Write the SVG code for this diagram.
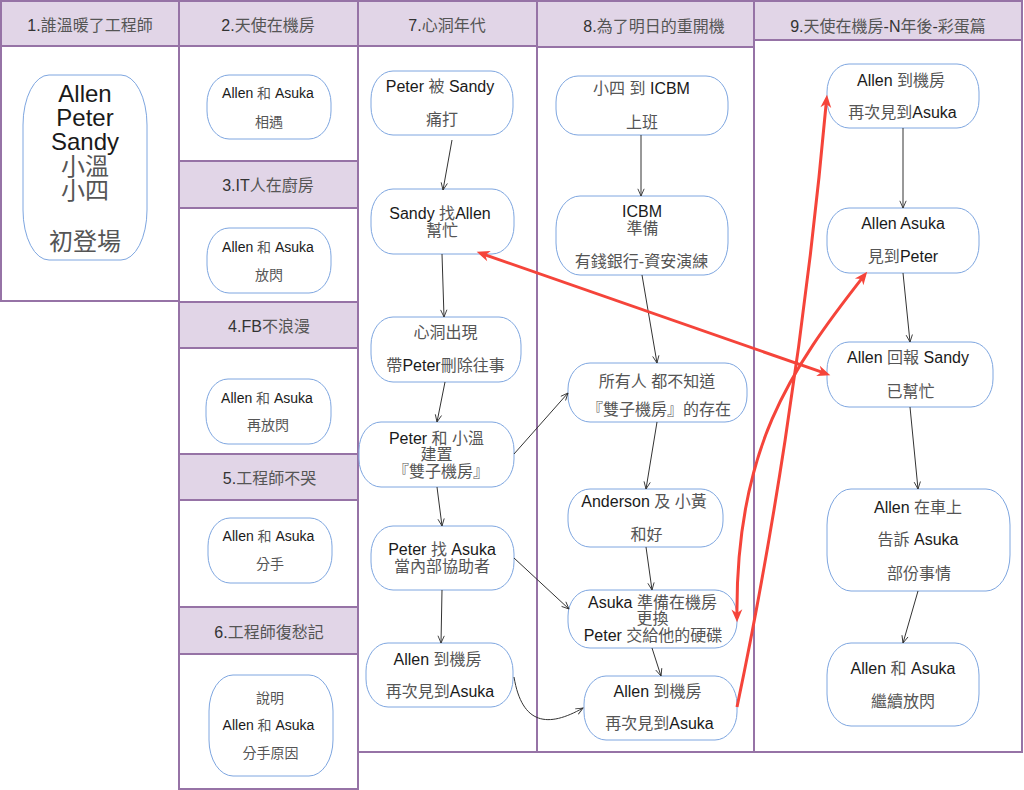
<svg xmlns="http://www.w3.org/2000/svg" width="1024" height="790" viewBox="0 0 1024 790">
<style>
.hdr{fill:#e1d5e7;stroke:#9673a6;stroke-width:2}
.body{fill:#ffffff;stroke:#9673a6;stroke-width:2}
.node{fill:#ffffff;stroke:#7ea6e0;stroke-width:1}
text{font-family:"Liberation Sans","Noto Sans CJK TC",sans-serif;text-anchor:middle;fill:#1a1a1a}
.c{fill:#555555}
.ht{font-size:16px;fill:#333333}
.t14{font-size:14px}
.t16{font-size:16px}
.t24{font-size:24px}
.edge{fill:none;stroke:#333333;stroke-width:1}
.red{fill:none;stroke:#f5443a;stroke-width:3}
</style>
<defs>
<marker id="open" viewBox="0 0 10 10" refX="9" refY="5" markerWidth="9" markerHeight="9" markerUnits="userSpaceOnUse" orient="auto" overflow="visible">
<path d="M1,1.5 L9,5 L1,8.5" fill="none" stroke="#333333" stroke-width="1"/>
</marker>
<marker id="redArrow" viewBox="0 0 12 12" refX="8" refY="6" markerWidth="13" markerHeight="13" markerUnits="userSpaceOnUse" orient="auto-start-reverse" overflow="visible">
<path d="M0,1 L12,6 L0,11 L3.5,6 z" fill="#f5443a"/>
</marker>
</defs>
<rect width="1024" height="790" fill="#ffffff"/>

<g id="lanes">
<g id="lane1">
<rect class="body" x="1" y="46" width="178" height="255"/>
<rect class="hdr" x="1" y="1" width="178" height="45"/>
<text class="ht" x="90" y="30.5">1.<tspan class="c">誰溫暖了工程師</tspan></text>
</g>
<g id="lane2">
<rect class="body" x="179" y="46" width="179" height="115"/>
<rect class="hdr" x="179" y="1" width="179" height="45"/>
<text class="ht" x="268" y="30.5">2.<tspan class="c">天使在機房</tspan></text>
</g>
<g id="lane3">
<rect class="body" x="179" y="208" width="179" height="94"/>
<rect class="hdr" x="179" y="161" width="179" height="47"/>
<text class="ht" x="268" y="191">3.IT<tspan class="c">人在廚房</tspan></text>
</g>
<g id="lane4">
<rect class="body" x="179" y="348" width="179" height="106"/>
<rect class="hdr" x="179" y="302" width="179" height="46"/>
<text class="ht" x="269" y="331.5">4.FB<tspan class="c">不浪漫</tspan></text>
</g>
<g id="lane5">
<rect class="body" x="179" y="500" width="179" height="107"/>
<rect class="hdr" x="179" y="454" width="179" height="46"/>
<text class="ht" x="269.5" y="484">5.<tspan class="c">工程師不哭</tspan></text>
</g>
<g id="lane6">
<rect class="body" x="179" y="654" width="179" height="135"/>
<rect class="hdr" x="179" y="607" width="179" height="47"/>
<text class="ht" x="269" y="637.5">6.<tspan class="c">工程師復愁記</tspan></text>
</g>
<g id="lane7">
<rect class="body" x="358" y="46" width="179" height="706"/>
<rect class="hdr" x="358" y="1" width="179" height="45"/>
<text class="ht" x="447" y="30.5">7.<tspan class="c">心洞年代</tspan></text>
</g>
<g id="lane8">
<rect class="body" x="537" y="47" width="217" height="705"/>
<rect class="hdr" x="537" y="1" width="217" height="46"/>
<text class="ht" x="654" y="31.5">8.<tspan class="c">為了明日的重開機</tspan></text>
</g>
<g id="lane9">
<rect class="body" x="754" y="40" width="268" height="712"/>
<rect class="hdr" x="754" y="1" width="268" height="39"/>
<text class="ht" x="888" y="31.5">9.<tspan class="c">天使在機房</tspan>-N<tspan class="c">年後</tspan>-<tspan class="c">彩蛋篇</tspan></text>
</g>
</g>

<g id="n1">
<rect class="node" x="23" y="75" width="124" height="185" rx="26" ry="50"/>
<text class="t24"><tspan x="85" y="102">Allen</tspan><tspan x="85" y="126">Peter</tspan><tspan x="85" y="150">Sandy</tspan><tspan class="c" x="85" y="175">小溫</tspan><tspan class="c" x="85" y="199">小四</tspan><tspan class="c" x="85" y="250">初登場</tspan></text>
</g>
<g id="n2">
<rect class="node" x="207" y="75" width="124" height="64" rx="22" ry="28"/>
<text class="t14"><tspan x="268" y="98">Allen <tspan class="c">和</tspan> Asuka</tspan><tspan class="c" x="269" y="127">相遇</tspan></text>
</g>
<g id="n3">
<rect class="node" x="207" y="228" width="124" height="65" rx="22" ry="28"/>
<text class="t14"><tspan x="268" y="251.5">Allen <tspan class="c">和</tspan> Asuka</tspan><tspan class="c" x="269" y="280">放閃</tspan></text>
</g>
<g id="n4">
<rect class="node" x="206" y="379" width="125" height="65" rx="22" ry="28"/>
<text class="t14"><tspan x="267" y="402.5">Allen <tspan class="c">和</tspan> Asuka</tspan><tspan class="c" x="268" y="430">再放閃</tspan></text>
</g>
<g id="n5">
<rect class="node" x="208" y="518" width="124" height="65" rx="22" ry="28"/>
<text class="t14"><tspan x="268.5" y="540.5">Allen <tspan class="c">和</tspan> Asuka</tspan><tspan class="c" x="270" y="569">分手</tspan></text>
</g>
<g id="n6">
<rect class="node" x="209" y="675" width="124" height="101" rx="24" ry="36"/>
<text class="t14"><tspan class="c" x="270" y="703">說明</tspan><tspan x="268.5" y="730">Allen <tspan class="c">和</tspan> Asuka</tspan><tspan class="c" x="270.5" y="757.5">分手原因</tspan></text>
</g>

<g id="n7a">
<rect class="node" x="371" y="71" width="142" height="64" rx="22" ry="28"/>
<text class="t16"><tspan x="440" y="92">Peter <tspan class="c">被</tspan> Sandy</tspan><tspan class="c" x="442" y="125">痛打</tspan></text>
</g>
<g id="n7b">
<rect class="node" x="371" y="189" width="143" height="65" rx="22" ry="28"/>
<text class="t16"><tspan x="440" y="218.5">Sandy <tspan class="c">找</tspan>Allen</tspan><tspan class="c" x="442" y="235.5">幫忙</tspan></text>
</g>
<g id="n7c">
<rect class="node" x="371" y="317" width="150" height="65" rx="22" ry="28"/>
<text class="t16"><tspan class="c" x="445.5" y="338">心洞出現</tspan><tspan x="445.5" y="371"><tspan class="c">帶</tspan>Peter<tspan class="c">刪除往事</tspan></tspan></text>
</g>
<g id="n7d">
<rect class="node" x="359" y="422" width="155" height="65" rx="22" ry="28"/>
<text class="t16"><tspan x="436.5" y="444">Peter <tspan class="c">和 小溫</tspan></tspan><tspan class="c" x="436.5" y="460">建置</tspan><tspan class="c" x="441" y="476.5">『雙子機房』</tspan></text>
</g>
<g id="n7e">
<rect class="node" x="371" y="526" width="143" height="64" rx="22" ry="28"/>
<text class="t16"><tspan x="442" y="555">Peter <tspan class="c">找</tspan> Asuka</tspan><tspan class="c" x="442" y="571.5">當內部協助者</tspan></text>
</g>
<g id="n7f">
<rect class="node" x="366" y="643" width="147" height="64" rx="22" ry="28"/>
<text class="t16"><tspan x="437.5" y="665">Allen <tspan class="c">到機房</tspan></tspan><tspan x="440" y="697"><tspan class="c">再次見到</tspan>Asuka</tspan></text>
</g>

<g id="n8a">
<rect class="node" x="556" y="76" width="172" height="59" rx="22" ry="26"/>
<text class="t16"><tspan x="641.5" y="94"><tspan class="c">小四 到</tspan> ICBM</tspan><tspan class="c" x="642" y="127.5">上班</tspan></text>
</g>
<g id="n8b">
<rect class="node" x="556" y="196" width="172" height="79" rx="24" ry="32"/>
<text class="t16"><tspan x="642" y="216.5">ICBM</tspan><tspan class="c" x="642.5" y="233.5">準備</tspan><tspan class="c" x="641.5" y="266.5">有錢銀行-資安演練</tspan></text>
</g>
<g id="n8c">
<rect class="node" x="568" y="363" width="179" height="59" rx="22" ry="26"/>
<text class="t16"><tspan class="c" x="657" y="386.5">所有人 都不知道</tspan><tspan class="c" x="659" y="415">『雙子機房』的存在</tspan></text>
</g>
<g id="n8d">
<rect class="node" x="568" y="489" width="155" height="58" rx="22" ry="26"/>
<text class="t16"><tspan x="644" y="507">Anderson <tspan class="c">及 小黃</tspan></tspan><tspan class="c" x="646.5" y="540">和好</tspan></text>
</g>
<g id="n8e">
<rect class="node" x="568" y="590" width="169" height="58" rx="22" ry="26"/>
<text class="t16"><tspan x="652.5" y="608">Asuka <tspan class="c">準備在機房</tspan></tspan><tspan class="c" x="652.5" y="623.5">更換</tspan><tspan x="653" y="640.5">Peter <tspan class="c">交給他的硬碟</tspan></tspan></text>
</g>
<g id="n8f">
<rect class="node" x="584" y="676" width="153" height="64" rx="22" ry="28"/>
<text class="t16"><tspan x="657.5" y="696.5">Allen <tspan class="c">到機房</tspan></tspan><tspan x="659.5" y="729"><tspan class="c">再次見到</tspan>Asuka</tspan></text>
</g>

<g id="n9a">
<rect class="node" x="827" y="64" width="152" height="64" rx="22" ry="28"/>
<text class="t16"><tspan x="901" y="86">Allen <tspan class="c">到機房</tspan></tspan><tspan x="902.5" y="118"><tspan class="c">再次見到</tspan>Asuka</tspan></text>
</g>
<g id="n9b">
<rect class="node" x="827" y="208" width="152" height="65" rx="22" ry="28"/>
<text class="t16"><tspan x="903" y="228.5">Allen Asuka</tspan><tspan x="903" y="261.5"><tspan class="c">見到</tspan>Peter</tspan></text>
</g>
<g id="n9c">
<rect class="node" x="827" y="342" width="166" height="65" rx="22" ry="28"/>
<text class="t16"><tspan x="908" y="362.5">Allen <tspan class="c">回報</tspan> Sandy</tspan><tspan class="c" x="910.5" y="396.5">已幫忙</tspan></text>
</g>
<g id="n9d">
<rect class="node" x="827" y="489" width="183" height="102" rx="24" ry="36"/>
<text class="t16"><tspan x="918" y="512.5">Allen <tspan class="c">在車上</tspan></tspan><tspan x="918" y="545"><tspan class="c">告訴</tspan> Asuka</tspan><tspan class="c" x="919" y="578.5">部份事情</tspan></text>
</g>
<g id="n9e">
<rect class="node" x="827" y="643" width="152" height="83" rx="24" ry="32"/>
<text class="t16"><tspan x="903" y="673.5">Allen <tspan class="c">和</tspan> Asuka</tspan><tspan class="c" x="903" y="706.5">繼續放閃</tspan></text>
</g>

<g id="connectors">
<path class="edge" marker-end="url(#open)" d="M452,140 L443,190"/>
<path class="edge" marker-end="url(#open)" d="M442,254 L444,317"/>
<path class="edge" marker-end="url(#open)" d="M445,382 L437,422"/>
<path class="edge" marker-end="url(#open)" d="M437,487 L442,526"/>
<path class="edge" marker-end="url(#open)" d="M442,590 L441,643"/>
<path class="edge" marker-end="url(#open)" d="M514,454 L568,393"/>
<path class="edge" marker-end="url(#open)" d="M514,558 L569,609"/>
<path class="edge" marker-end="url(#open)" d="M514,677 C522,725 548,728 583,708"/>
<path class="edge" marker-end="url(#open)" d="M641,135 L641,196"/>
<path class="edge" marker-end="url(#open)" d="M642,275 L657,363"/>
<path class="edge" marker-end="url(#open)" d="M657,422 L646,489"/>
<path class="edge" marker-end="url(#open)" d="M646,547 L652,590"/>
<path class="edge" marker-end="url(#open)" d="M652,648 L661,676"/>
<path class="edge" marker-end="url(#open)" d="M903,128 L903,208"/>
<path class="edge" marker-end="url(#open)" d="M903,273 L910,342"/>
<path class="edge" marker-end="url(#open)" d="M910,407 L918,489"/>
<path class="edge" marker-end="url(#open)" d="M918,591 L903,643"/>
<path class="red" marker-start="url(#redArrow)" marker-end="url(#redArrow)" d="M480.8,253.3 L826.2,373.7"/>
<path class="red" marker-end="url(#redArrow)" d="M737,707 C768,560 804.6,344 826.6,99"/>
<path class="red" marker-start="url(#redArrow)" marker-end="url(#redArrow)" d="M864.5,275.1 C790,370 735,450 737,618"/>
</g>
</svg>
